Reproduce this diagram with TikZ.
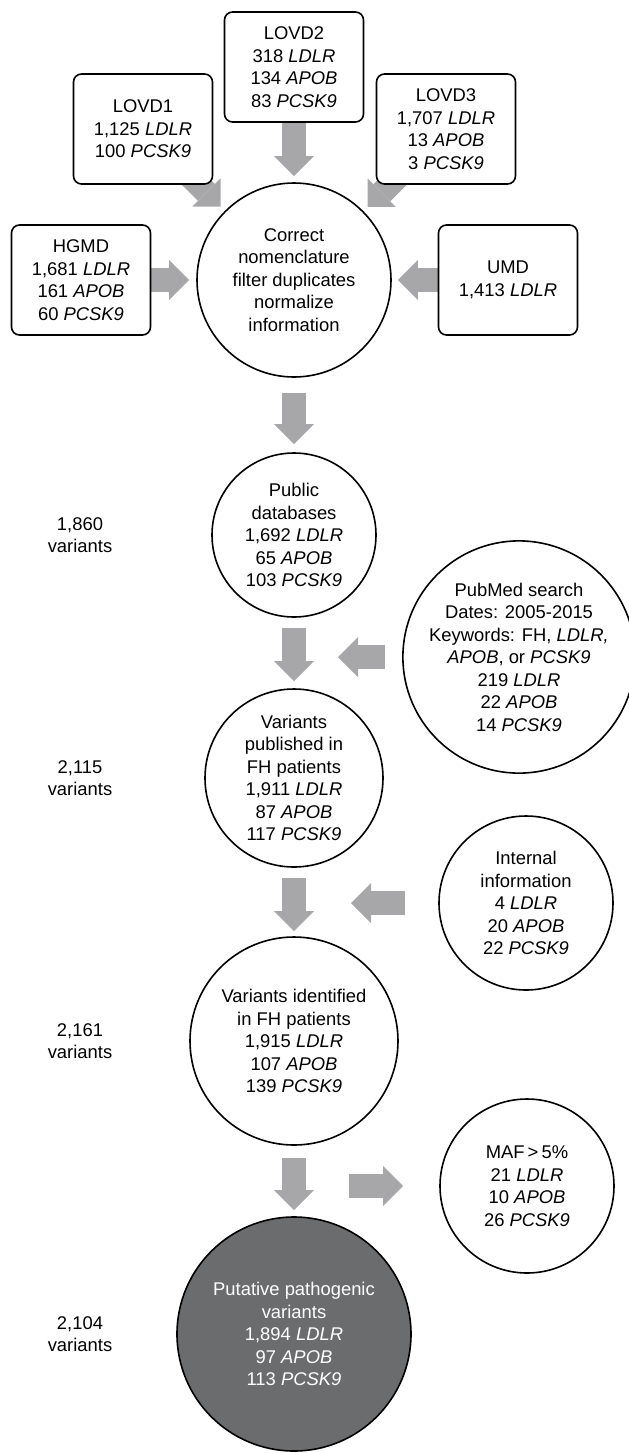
\documentclass[tikz,border=0pt]{standalone}
\usepackage{fontspec}
\setmainfont{Liberation Sans}
\usetikzlibrary{arrows.meta,positioning,calc,backgrounds}
\definecolor{arrowgray}{RGB}{167,167,169}
\definecolor{darkfill}{RGB}{107,108,110}

\begin{document}
\begin{tikzpicture}[x=0.5pt,y=-0.5pt,
  src/.style={draw,rounded corners=4pt,line width=0.8pt,fill=white,align=center,
    minimum width=69.5pt,minimum height=55pt,inner sep=0pt,
    font=\fontsize{9.2}{11.25}\selectfont},
  stage/.style={draw,circle,line width=0.8pt,fill=white,align=center,inner sep=0pt,
    font=\fontsize{9.2}{11.25}\selectfont},
  count/.style={align=center,font=\fontsize{9.2}{11.25}\selectfont},
  fat/.style={arrowgray,line width=12pt,
    -{Triangle[length=10pt,width=20pt,line width=0pt]}}]
  \useasboundingbox (0,0) rectangle (628,1453);

  % --- source databases ---
  \node[src] (lovd2) at (294,67)  {LOVD2\\318 \textit{LDLR}\\134 \textit{APOB}\\83 \textit{PCSK9}};
  \node[src] (lovd1) at (143,129) {LOVD1\\1,125 \textit{LDLR}\\100 \textit{PCSK9}};
  \node[src] (lovd3) at (446,129) {LOVD3\\1,707 \textit{LDLR}\\13 \textit{APOB}\\3 \textit{PCSK9}};
  \node[src] (hgmd)  at (81,280)  {HGMD\\1,681 \textit{LDLR}\\161 \textit{APOB}\\60 \textit{PCSK9}};
  \node[src] (umd)   at (508,280) {UMD\\1,413 \textit{LDLR}};

  % --- main column ---
  \node[stage,minimum size=97pt] (clean) at (294,280)
    {Correct\\nomenclature\\filter duplicates\\normalize\\information};
  \node[stage,minimum size=82pt] (public) at (294,535)
    {Public\\databases\\1,692 \textit{LDLR}\\65 \textit{APOB}\\103 \textit{PCSK9}};
  \node[stage,minimum size=89pt] (published) at (294,778)
    {Variants\\published in\\FH patients\\1,911 \textit{LDLR}\\87 \textit{APOB}\\117 \textit{PCSK9}};
  \node[stage,minimum size=104pt] (identified) at (294,1041)
    {Variants identified\\in FH patients\\1,915 \textit{LDLR}\\107 \textit{APOB}\\139 \textit{PCSK9}};
  \node[stage,minimum size=117pt,fill=darkfill,text=white] (putative) at (294,1334)
    {Putative pathogenic\\variants\\1,894 \textit{LDLR}\\97 \textit{APOB}\\113 \textit{PCSK9}};

  % --- side inputs / outputs ---
  \node[stage,minimum size=108pt] (pubmed) at (519,657)
    {PubMed search\\Dates: 2005-2015\\Keywords: FH, \textit{LDLR,}\\\textit{APOB}, or \textit{PCSK9}\\219 \textit{LDLR}\\22 \textit{APOB}\\14 \textit{PCSK9}};
  \node[stage,minimum size=87pt] (internal) at (526,903)
    {Internal\\information\\4 \textit{LDLR}\\20 \textit{APOB}\\22 \textit{PCSK9}};
  \node[stage,minimum size=87pt] (maf) at (527,1186)
    {MAF\,>\,5\%\\21 \textit{LDLR}\\10 \textit{APOB}\\26 \textit{PCSK9}};

  % --- variant counts ---
  \coordinate (lblx) at (80,0);
  \node[count] (n1860) at (public -| lblx)     {1,860\\variants};
  \node[count] (n2115) at (published -| lblx)  {2,115\\variants};
  \node[count] (n2161) at (identified -| lblx) {2,161\\variants};
  \node[count] (n2104) at (putative -| lblx)   {2,104\\variants};

  % --- where the side arrows meet the column ---
  \coordinate (j1) at (pubmed -| public);
  \coordinate (j2) at (internal -| published);
  \coordinate (j3) at (maf -| identified);

  % --- grey block arrows, behind the shapes ---
  \begin{pgfonlayer}{background}
    \draw[fat,shorten >=3pt] (lovd2) -- (clean);
    \draw[fat,shorten <=-20pt,shorten >=3pt] (lovd1) -- (clean);
    \draw[fat,shorten <=-20pt,shorten >=3pt] (lovd3) -- (clean);
    \draw[fat,shorten >=3.5pt] (hgmd) -- (clean);
    \draw[fat,shorten >=3pt] (umd) -- (clean);
    \draw[fat,shorten <=7.5pt,shorten >=4pt] (clean) -- (public);
    \draw[fat,shorten <=5pt,shorten >=3.5pt] (public) -- (published);
    \draw[fat,shorten <=5pt,shorten >=2.5pt] (published) -- (identified);
    \draw[fat,shorten <=6pt,shorten >=3pt] (identified) -- (putative);
    \draw[fat,shorten <=8.5pt,shorten >=22pt] (pubmed) -- (j1);
    \draw[fat,shorten <=16.5pt,shorten >=28.5pt] (internal) -- (j2);
    \draw[fat,shorten <=27.5pt,shorten >=18pt] (j3) -- (maf);
  \end{pgfonlayer}
\end{tikzpicture}
\end{document}
